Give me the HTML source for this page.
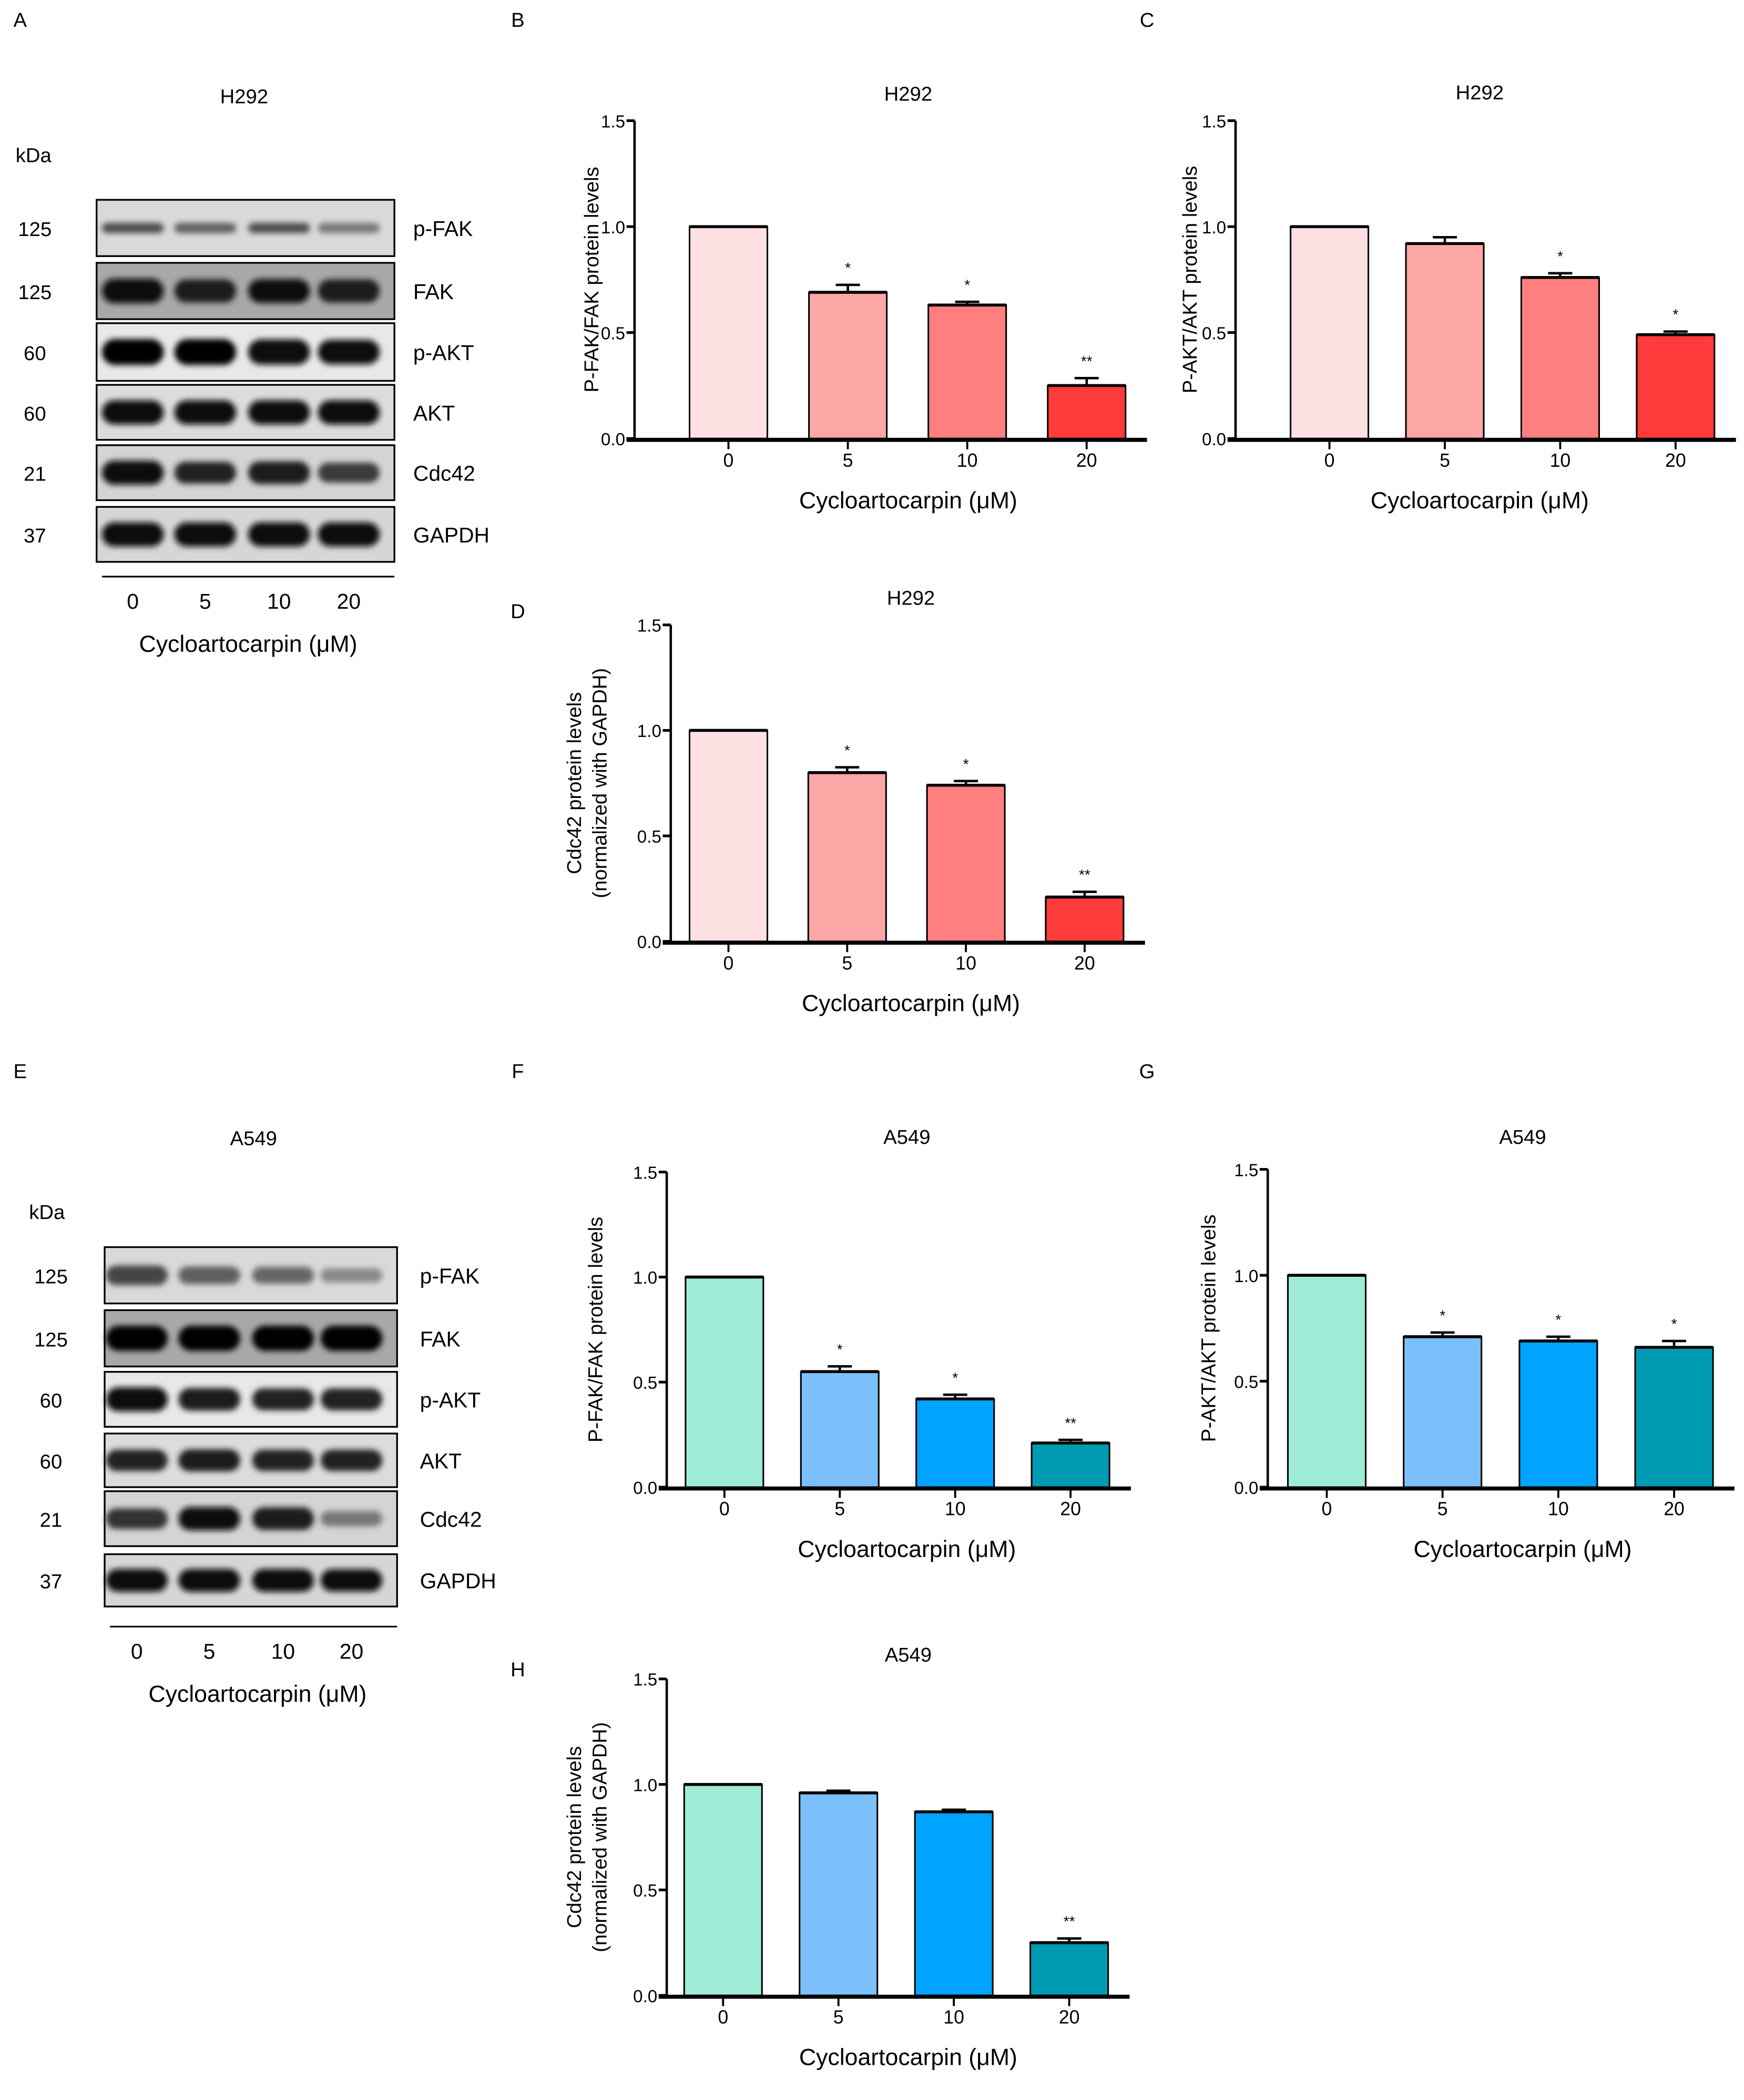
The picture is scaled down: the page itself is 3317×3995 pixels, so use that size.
<!DOCTYPE html>
<html><head><meta charset="utf-8">
<style>
html,body{margin:0;padding:0;background:#fff;}
svg{display:block;}
text{font-family:"Liberation Sans",Arial,sans-serif;fill:#000;}
</style></head>
<body>
<svg id="fig" width="3317" height="3995" viewBox="0 0 1300 1566" preserveAspectRatio="none" xmlns="http://www.w3.org/2000/svg">
<defs>
<filter id="blur" x="-20%" y="-50%" width="140%" height="200%"><feGaussianBlur stdDeviation="2.2"/></filter>
</defs>
<g id="root"></g>
</svg>
<script>
// ---- chart data ----
const categories = ["0","5","10","20"];
const h292Fak = [1.0, 0.69, 0.63, 0.25];
const h292FakErr = [0, 0.035, 0.015, 0.035];
const h292Akt = [1.0, 0.92, 0.76, 0.49];
const h292AktErr = [0, 0.03, 0.02, 0.015];
const h292Cdc = [1.0, 0.80, 0.74, 0.21];
const h292CdcErr = [0, 0.025, 0.02, 0.025];
const a549Fak = [1.0, 0.55, 0.42, 0.21];
const a549FakErr = [0, 0.025, 0.02, 0.015];
const a549Akt = [1.0, 0.71, 0.69, 0.66];
const a549AktErr = [0, 0.02, 0.02, 0.03];
const a549Cdc = [1.0, 0.96, 0.87, 0.25];
const a549CdcErr = [0, 0.01, 0.01, 0.02];
const sigFakH = ["", "*", "*", "**"];
const sigAktH = ["", "", "*", "*"];
const sigCdcH = ["", "*", "*", "**"];
const sigFakA = ["", "*", "*", "**"];
const sigAktA = ["", "*", "*", "*"];
const sigCdcA = ["", "", "", "**"];
const yTicks = [0, 0.5, 1.0, 1.5];
const yTickLabels = ["0.0","0.5","1.0","1.5"];
// blot band intensities (0..1)
const blotH = [[0.55,0.45,0.55,0.3],[0.95,0.85,0.9,0.85],[1,1,0.95,0.9],[0.95,0.95,0.95,0.95],[0.95,0.8,0.85,0.65],[0.95,0.95,0.95,0.95]];
const blotA = [[0.6,0.45,0.4,0.2],[1,1,1,1],[0.95,0.85,0.8,0.8],[0.8,0.85,0.8,0.8],[0.7,0.9,0.85,0.3],[0.95,0.95,0.95,0.9]];

const NS="http://www.w3.org/2000/svg";
const root=document.getElementById('root');
function mk(tag,attrs,parent){const e=document.createElementNS(NS,tag);for(const k in attrs)e.setAttribute(k,attrs[k]);(parent||root).appendChild(e);return e;}
function txt(x,y,s,size,anchor,parent,rot){const t=mk('text',{x:x,y:y,'font-size':size,'text-anchor':anchor||'middle'},parent);if(rot)t.setAttribute('transform','rotate(-90 '+x+' '+y+')');t.textContent=s;return t;}

// panel letters
[["A",15,20],["B",386,20],["C",855,20],["D",386,461],["E",15,804],["F",386,804],["G",855,804],["H",386,1250]].forEach(l=>{
 const t=txt(l[1],l[2],l[0],15,'middle');
 
 
});

function chart(name,cfg,vals,errs,sig,colors,title,ylab){
 const g=mk('g',{});
 
 
 const y=v=>cfg.y0-(v/1.5)*(cfg.y0-cfg.y15);
 const x=i=>cfg.first+i*cfg.step;
 const xEnd=x(categories.length-1)+45;
 const bw=58;
 const tt=txt(cfg.cx,cfg.ty,title,15,'middle',g);
 
 
 vals.forEach((v,i)=>{
  const r=mk('rect',{x:x(i)-bw/2,y:y(v),width:bw,height:cfg.y0-y(v),fill:colors[i],stroke:'#000','stroke-width':1.2},g);
  
  
  mk('line',{x1:x(i)-bw/2,x2:x(i)+bw/2,y1:y(v),y2:y(v),stroke:'#000','stroke-width':2.2},g);
  if(errs[i]>0){
   const e=mk('path',{d:'M'+x(i)+' '+y(v)+'V'+y(v+errs[i])+'M'+(x(i)-9)+' '+y(v+errs[i])+'H'+(x(i)+9),stroke:'#000','stroke-width':1.8,fill:'none'},g);
   
   
  }
  if(sig[i]){const s=txt(x(i),y(v+errs[i])-9,sig[i],11,'middle',g);
   
   }
  mk('line',{x1:x(i),x2:x(i),y1:cfg.y0,y2:cfg.y0+8,stroke:'#000','stroke-width':1.5},g);
  const cl=txt(x(i),cfg.y0+21,categories[i],14,'middle',g);
  
  
 });
 const ya=mk('line',{x1:cfg.ax,x2:cfg.ax,y1:cfg.y15,y2:cfg.y0,stroke:'#000','stroke-width':1.8},g);
 
 
 const xa=mk('line',{x1:cfg.ax-6,x2:xEnd,y1:cfg.y0+1,y2:cfg.y0+1,stroke:'#000','stroke-width':3},g);
 
 
 yTicks.forEach((t,k)=>{
  mk('line',{x1:cfg.ax-6,x2:cfg.ax,y1:y(t),y2:y(t),stroke:'#000','stroke-width':2},g);
  const l=txt(cfg.ax-7,y(t)+5,yTickLabels[k],13,'end',g);
  
  
 });
 const xl=txt(cfg.cx,cfg.y0+52,'Cycloartocarpin (μM)',17.5,'middle',g);
 
 
 const ym=(cfg.y0+cfg.y15)/2;
 if(ylab.length===1){
  const yl=txt(cfg.ylx,ym,ylab[0],15,'middle',g,true);
  
  
 }else{
  const yl=txt(cfg.ylx-19,ym,ylab[0],15,'middle',g,true);
  
  
  const yl2=txt(cfg.ylx,ym,ylab[1],15,'middle',g,true);
  
  
 }
}
const red=["#fde0e2","#fca6a6","#ff7f7f","#ff3b3b"];
const blue=["#9eecd8","#7bc0fb","#00a4ff","#009ab3"];
chart('chart-b-h292-pfak',{ax:473,y0:327,y15:90,first:543,step:89,cx:677,ty:75,ylx:446},h292Fak,h292FakErr,sigFakH,red,'H292',['P-FAK/FAK protein levels']);
chart('chart-c-h292-pakt',{ax:921,y0:327,y15:90,first:991,step:86,cx:1103,ty:74,ylx:892},h292Akt,h292AktErr,sigAktH,red,'H292',['P-AKT/AKT protein levels']);
chart('chart-d-h292-cdc42',{ax:500,y0:702,y15:466,first:543,step:88.5,cx:679,ty:451,ylx:452},h292Cdc,h292CdcErr,sigCdcH,red,'H292',['Cdc42 protein levels','(normalized with GAPDH)']);
chart('chart-f-a549-pfak',{ax:497,y0:1109,y15:874,first:540,step:86,cx:676,ty:853,ylx:449},a549Fak,a549FakErr,sigFakA,blue,'A549',['P-FAK/FAK protein levels']);
chart('chart-g-a549-pakt',{ax:945,y0:1109,y15:872,first:989,step:86.3,cx:1135,ty:853,ylx:906},a549Akt,a549AktErr,sigAktA,blue,'A549',['P-AKT/AKT protein levels']);
chart('chart-h-a549-cdc42',{ax:497,y0:1488,y15:1252,first:539,step:86,cx:677,ty:1239,ylx:452},a549Cdc,a549CdcErr,sigCdcA,blue,'A549',['Cdc42 protein levels','(normalized with GAPDH)']);

// ---- western blots ----
const proteins=["p-FAK","FAK","p-AKT","AKT","Cdc42","GAPDH"];
const kda=["125","125","60","60","21","37"];
function blot(name,cfg,inten,title){
 const g=mk('g',{});
 
 
 const t=txt(cfg.titleX,cfg.titleY,title,15,'middle',g);
 
 
 const k=txt(cfg.kdaX,cfg.kdaY,'kDa',15,'middle',g);
 
 
 cfg.rows.forEach((r,i)=>{
  const bg=['#d9d9d9','#a8a8a8','#e8e8e8','#dcdcdc','#d4d4d4','#d6d6d6'][i];
  const rect=mk('rect',{x:cfg.x0,y:r[0],width:cfg.x1-cfg.x0,height:r[1]-r[0],fill:bg,stroke:'#000','stroke-width':1.3},g);
  
  
  const cy=(r[0]+r[1])/2;
  const hh=(r[1]-r[0]);
  inten[i].forEach((v,j)=>{
   const cx=cfg.lanes[j];
   const h=(i<2&&cfg.x0<75&&i===0)?hh*0.18:hh*(0.2+0.25*v);
   const c=Math.round(170*(1-v));
   const b=mk('rect',{x:cx-23,y:cy-h/2,width:46,height:h,rx:h/2,fill:'rgb('+c+','+c+','+c+')',filter:'url(#blur)'},g);
   
   
  });
  const n=txt(cfg.numX,cy+6,kda[i],15,'middle',g);
  
  
  const p=txt(cfg.labX,cy+6,proteins[i],16,'start',g);
  
  
 });
 mk('line',{x1:cfg.x0+4,x2:cfg.x1,y1:cfg.sepY,y2:cfg.sepY,stroke:'#000','stroke-width':1.2},g);
 categories.forEach((c,j)=>{const l=txt(cfg.lanes[j],cfg.sepY+24,c,16,'middle',g);
  
  });
 const xl=txt(cfg.titleX+3,cfg.sepY+56,'Cycloartocarpin (μM)',17.5,'middle',g);
 
 
}
blot('western-blot-h292',{x0:72,x1:294,titleX:182,titleY:77,kdaX:25,kdaY:121,numX:26,labX:308,sepY:430,
 lanes:[99,153,208,260],rows:[[149,191],[196,238],[241,284],[287,328],[332,373],[378,419]]},blotH,'H292');
blot('western-blot-a549',{x0:78,x1:296,titleX:189,titleY:854,kdaX:35,kdaY:909,numX:38,labX:313,sepY:1213,
 lanes:[102,156,211,262],rows:[[930,972],[977,1019],[1023,1064],[1069,1109],[1112,1153],[1159,1198]]},blotA,'A549');
</script>
</body></html>
